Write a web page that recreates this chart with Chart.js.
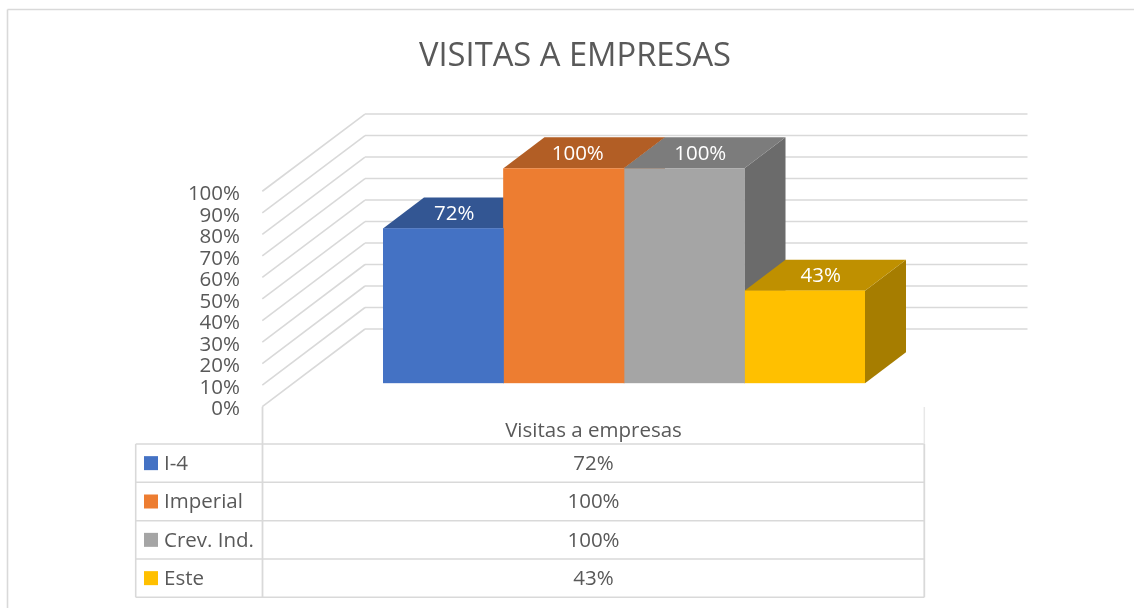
<!DOCTYPE html>
<html><head><meta charset="utf-8">
<style>html,body{margin:0;padding:0;background:#fff}#w{position:relative;width:1134px;height:608px}</style>
<script src="https://cdn.jsdelivr.net/npm/chart.js@4"></script>
</head><body><div id="w"><canvas id="c" width="1134" height="608"></canvas></div>
<script>
const chartTitle = 'VISITAS A EMPRESAS';
const categories = ['Visitas a empresas'];
const seriesNames = ['I-4', 'Imperial', 'Crev. Ind.', 'Este'];
const seriesValues = [[72], [100], [100], [43]];
const seriesColors = ['#4472C4', '#ED7D31', '#A5A5A5', '#FFC000'];
const yTicks = [0,10,20,30,40,50,60,70,80,90,100];

const FONT = '"Open Sans"';
const TEXT = '#595959', LINE = '#D9D9D9';
const DX = 41, DY = 31;              // bar depth
const labelNudge = [11, 14, 16, 16];
function shade(hex, f){
  const n = parseInt(hex.slice(1),16);
  return 'rgb('+[(n>>16)&255,(n>>8)&255,n&255].map(c=>Math.round(c*f)).join(',')+')';
}
function poly(ctx, pts, fill){
  ctx.beginPath(); pts.forEach((p,i)=> i?ctx.lineTo(p[0],p[1]):ctx.moveTo(p[0],p[1]));
  ctx.closePath(); ctx.fillStyle = fill; ctx.fill();
}
function seg(ctx,x1,y1,x2,y2,w,color){
  ctx.beginPath(); ctx.moveTo(x1,y1); ctx.lineTo(x2,y2);
  ctx.lineWidth = w||1.6; ctx.strokeStyle = color||LINE; ctx.stroke();
}
const scene = {
  id:'scene',
  beforeDatasetsDraw(chart){
    const ctx = chart.ctx, yS = chart.scales.y;
    ctx.save();
    // outer frame
    seg(ctx,7.5,608,7.5,9.5); seg(ctx,7.5,9.5,1134,9.5);
    // walls
    yTicks.forEach(v=>{
      const p = yS.getPixelForValue(v);
      seg(ctx,262.3,p+23.4-(v*0.005),365,p-54.3);
      seg(ctx,365,p-54.3,1027.5,p-54.3);
    });
    // table
    const rows=[444,482.3,520.7,559,597.3];
    rows.forEach(y=>seg(ctx,135.7,y,924.3,y));
    seg(ctx,135.7,444,135.7,597.3);
    seg(ctx,262.5,406.7,262.5,597.3,1.8);
    seg(ctx,924.3,407,924.3,444,1.5,'#E8E8E8');
    seg(ctx,924.3,444,924.3,597.3,1.8);
    // bar depth faces
    chart.data.datasets.forEach((ds,i)=>{
      const b = chart.getDatasetMeta(i).data[0];
      const l = b.x-b.width/2, r = b.x+b.width/2, t = b.y, bo = b.base, c = ds.backgroundColor;
      poly(ctx,[[r,t],[r+DX,t-DY],[r+DX,bo-DY],[r,bo]],shade(c,0.65));
      poly(ctx,[[l,t],[l+DX,t-DY],[r+DX,t-DY],[r,t]],shade(c,0.75));
    });
    ctx.restore();
  },
  afterDatasetsDraw(chart){
    const ctx = chart.ctx;
    ctx.save();
    ctx.textBaseline='middle';
    // value labels on the top faces
    ctx.font = '20.5px '+FONT; ctx.fillStyle='#fff'; ctx.textAlign='center';
    chart.data.datasets.forEach((ds,i)=>{
      const b = chart.getDatasetMeta(i).data[0];
      ctx.fillText(ds.data[0]+'%', b.x+labelNudge[i], b.y-14.5);
    });
    // table text
    const rows=[444,482.3,520.7,559,597.3];
    chart.data.datasets.forEach((ds,i)=>{
      const cy=(rows[i]+rows[i+1])/2;
      ctx.fillStyle=ds.backgroundColor;
      ctx.fillRect(144,cy-7,14,14);
      ctx.fillStyle=TEXT; ctx.textAlign='left';
      ctx.fillText(ds.label,164,cy+1);
      ctx.textAlign='center';
      ctx.fillText(ds.data[0]+'%',593.5,cy+1);
    });
    ctx.restore();
  }
};
new Chart(document.getElementById('c'),{
  type:'bar',
  data:{labels:categories,
    datasets:seriesNames.map((n,i)=>({label:n,data:seriesValues[i],backgroundColor:seriesColors[i],borderWidth:0,
      barPercentage:1,categoryPercentage:1}))},
  plugins:[scene],
  options:{
    responsive:false,animation:false,
    layout:{padding:{left:16,right:0,top:0,bottom:0}},
    plugins:{
      legend:{display:false},tooltip:{enabled:false},
      title:{display:true,text:chartTitle,color:TEXT,font:{family:FONT,size:32.7,weight:'normal',lineHeight:1.2},
        padding:{top:37.4,bottom:91.7}}
    },
    scales:{
      x:{grid:{display:false,drawTicks:false},border:{display:false},
        ticks:{color:TEXT,font:{family:FONT,size:20.5},padding:35.5,labelOffset:-30.5,maxRotation:0,autoSkip:false},
        afterFit(s){s.height=224.7;}},
      y:{min:0,max:100,grid:{display:false,drawTicks:false},border:{display:false},
        afterBuildTicks(s){s.ticks=yTicks.map(v=>({value:v}));},
        ticks:{color:TEXT,font:{family:FONT,size:20.5},padding:143,labelOffset:26,autoSkip:false,callback:v=>v+'%'},
        afterFit(s){s.width=367;}},
      pad:{position:'right',grid:{display:false,drawTicks:false},border:{display:false},ticks:{display:false},
        afterFit(s){s.width=269;}}
    }
  }
});
</script></body></html>
